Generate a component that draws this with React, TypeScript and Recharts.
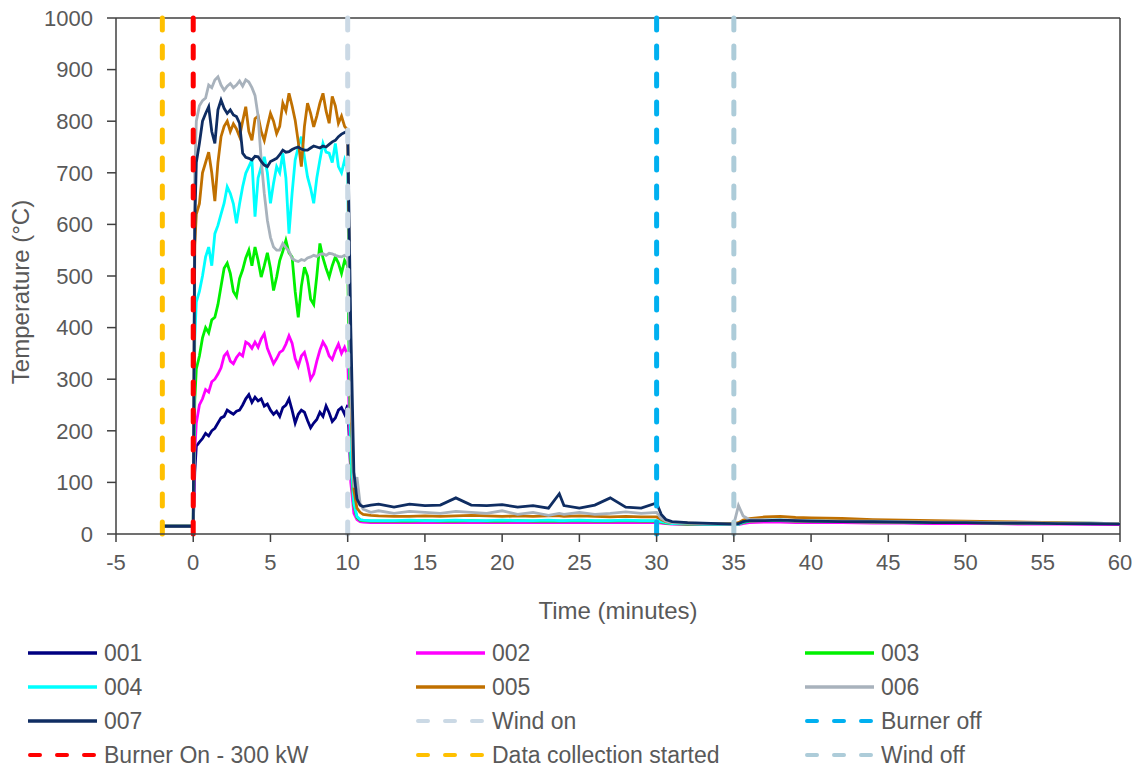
import React from 'react';
import { LineChart, Line, XAxis, YAxis, ReferenceLine, Label } from 'recharts';

// time in minutes
const times = [
  -2, -1, 0,
  0.1, 0.2, 0.4, 0.6, 0.8, 1.0, 1.2, 1.4, 1.6, 1.8, 2.0,
  2.2, 2.4, 2.6, 2.8, 3.0, 3.2, 3.4, 3.6, 3.8, 4.0,
  4.2, 4.4, 4.6, 4.8, 5.0, 5.2, 5.4, 5.6, 5.8, 6.0,
  6.2, 6.4, 6.6, 6.8, 7.0, 7.2, 7.4, 7.6, 7.8, 8.0,
  8.2, 8.4, 8.6, 8.8, 9.0, 9.2, 9.4, 9.6, 9.8, 10.0,
  10.2, 10.4, 10.6, 10.8, 11, 11.5, 12,
  13, 14, 15, 16, 17, 18, 19, 20, 21, 22, 23,
  23.7,
  24, 25, 26, 27, 28, 29, 30,
  30.3, 30.6,
  31, 32, 33, 34, 35,
  35.3, 35.6,
  36, 37, 38, 39, 40,
  42, 44, 46, 48, 50, 52, 54, 56, 58, 60,
];

const s001 = [
  15, 15, 15,
  120, 170, 178, 185, 195, 190, 200, 205, 215, 225, 228,
  240, 236, 232, 238, 240, 250, 262, 270, 255, 265,
  258, 262, 248, 252, 240, 232, 238, 228, 245, 250,
  262, 240, 215, 232, 240, 236, 220, 206, 215, 222,
  236, 228, 248, 235, 218, 225, 240, 245, 232, 250,
  120, 50, 32, 27, 25, 24, 24,
  24, 24, 23, 24, 23, 24, 23, 24, 23, 24, 23,
  24,
  23, 24, 23, 24, 23, 24, 23,
  22, 21,
  20, 19, 19, 19, 19,
  19, 22,
  24, 25, 25, 24, 24,
  23, 22, 22, 21, 21, 20, 20, 20, 19, 19,
];

const s002 = [
  15, 15, 15,
  160, 215, 250, 262, 280, 275, 295, 300, 310, 322, 345,
  352, 335, 330, 342, 350, 345, 372, 368, 360, 372,
  362, 378, 388, 360, 345, 330, 340, 352, 356, 368,
  384, 370, 340, 325, 345, 352, 330, 300, 310, 335,
  356, 372, 362, 345, 338, 355, 368, 350, 362, 345,
  100, 40, 28, 24, 23, 22, 22,
  22, 22, 22, 22, 22, 22, 22, 22, 22, 22, 22,
  22,
  22, 22, 22, 22, 22, 22, 22,
  21, 20,
  19, 19, 18, 18, 18,
  18, 20,
  22, 23, 23, 22, 22,
  22, 21, 21, 20, 20, 20, 19, 19, 19, 18,
];

const s003 = [
  15, 15, 15,
  260, 320, 345, 380, 400, 390, 415, 420, 445, 480, 515,
  525, 505, 470, 460, 495, 512, 535, 550, 520, 556,
  530, 498, 520, 545, 515, 472, 498, 530, 548, 569,
  545, 537, 470, 420, 480, 517, 500, 455, 445, 500,
  563, 535, 515, 498, 520, 537, 525, 505, 530, 520,
  140, 55, 32, 27, 26, 25, 25,
  25, 25, 26, 25, 25, 26, 25, 25, 26, 25, 25,
  25,
  25, 26, 25, 25, 26, 25, 25,
  23, 21,
  20, 19, 19, 19, 19,
  19, 22,
  25, 26, 26, 25, 25,
  24, 23, 23, 22, 22, 21, 21, 21, 20, 20,
];

const s004 = [
  15, 15, 15,
  380, 450, 470, 500, 537, 556, 520, 582, 598, 620, 641,
  673, 660, 640, 602, 640, 673, 699, 712, 725, 615,
  690, 712, 731, 700, 641, 680, 712, 700, 738, 690,
  582, 660, 725, 750, 770, 730, 692, 670, 641, 690,
  725, 757, 740, 738, 720, 757, 712, 700, 725, 705,
  160, 60, 34, 28, 27, 26, 26,
  26, 27, 26, 26, 27, 26, 26, 27, 26, 26, 27,
  26,
  26, 27, 26, 26, 27, 26, 26,
  24, 22,
  20, 20, 19, 19, 19,
  19, 23,
  26, 27, 27, 26, 26,
  25, 24, 24, 23, 23, 22, 22, 21, 21, 20,
];

const s005 = [
  15, 15, 15,
  560, 620, 640, 700, 720, 740, 700, 645, 720, 770, 790,
  800, 780, 795, 785, 770, 800, 828, 780, 763, 805,
  810, 780, 763, 790, 815, 800, 776, 790, 835, 820,
  854, 830, 802, 760, 712, 790, 835, 815, 789, 810,
  835, 854, 820, 796, 848, 830, 796, 810, 790, 783,
  250, 85, 50, 42, 38, 36, 35,
  34, 34, 35, 34, 35, 36, 35, 34, 35, 34, 35,
  35,
  34, 35, 34, 33, 34, 33, 33,
  28, 24,
  22, 21, 20, 20, 20,
  22, 27,
  30, 33, 34, 32, 31,
  30, 28, 27, 26, 25, 24, 23, 22, 21, 20,
];

const s006 = [
  15, 15, 15,
  700, 800, 830, 840, 845, 870, 865, 880, 886, 870, 860,
  868, 873, 865, 870, 878, 868, 880, 876, 865, 850,
  810, 725, 660, 608, 575, 556, 550, 550, 563, 555,
  548, 534, 530, 528, 532, 530, 535, 537, 540, 538,
  542, 543, 540, 544, 543, 540, 538, 537, 540, 538,
  300, 90, 110, 60, 48, 42, 45,
  40, 44, 42, 40, 44, 42, 40, 45, 38, 42, 36,
  40,
  38, 42, 38, 40, 43, 40, 42,
  30, 25,
  22, 21, 20, 20, 19,
  55, 35,
  28, 28, 27, 27, 26,
  25, 25, 24, 23, 23, 22, 22, 21, 21, 20,
];

const s007 = [
  15, 15, 15,
  600, 720, 757, 800, 815, 828, 780, 757, 822, 841, 825,
  815, 822, 812, 809, 796, 738, 730, 728, 725, 732,
  731, 722, 715, 712, 722, 725, 728, 735, 744, 740,
  741, 745, 748, 750, 746, 744, 744, 748, 752, 750,
  748, 752, 750, 755, 760, 763, 770, 775, 778, 782,
  400, 120, 68, 56, 53, 56, 58,
  52, 58, 55, 56, 70, 56, 55, 57, 52, 55, 50,
  78,
  55, 50, 56, 70, 52, 50, 60,
  38, 28,
  24, 22, 21, 20, 19,
  20, 24,
  26, 26, 27, 26, 25,
  24, 24, 23, 22, 22, 21, 21, 20, 20, 19,
];

const xTicks = [-5, 0, 5, 10, 15, 20, 25, 30, 35, 40, 45, 50, 55, 60];
const yTicks = [0, 100, 200, 300, 400, 500, 600, 700, 800, 900, 1000];

const seriesNames = ['001', '002', '003', '004', '005', '006', '007'];
const seriesColors = ['#000080', '#FF00FF', '#00F000', '#00FFFF', '#C07000', '#A8B2BC', '#0F2D62'];
const seriesValues = [s001, s002, s003, s004, s005, s006, s007];

const eventNames = ['Wind on', 'Burner off', 'Burner On - 300 kW', 'Data collection started', 'Wind off'];
const eventTimes = [10, 30, 0, -2, 35];
const eventColors = ['#CBD9E5', '#00B0F0', '#FF0000', '#FFC000', '#ADCCD9'];

const data = times.map((t, i) => {
  const row: any = { t };
  seriesNames.forEach((n, k) => {
    row['s' + n] = seriesValues[k][i];
  });
  return row;
});

const FONT = '"Liberation Sans", Arial, sans-serif';
const TEXT = '#595959';
const AXIS = '#404040';

const legendItems = [
  ...seriesNames.map((n, k) => ({ name: n, color: seriesColors[k], dash: false })),
  ...eventNames.map((n, k) => ({ name: n, color: eventColors[k], dash: true })),
];

const legendColX = [28, 416, 805];
const legendRowY = [653, 687, 721, 755];

function LegendOverlay() {
  return (
    <svg width={1142} height={771} style={{ position: 'absolute', left: 0, top: 0, pointerEvents: 'none' }}>
      {legendItems.map((it, i) => {
        const x = legendColX[i % 3];
        const y = legendRowY[Math.floor(i / 3)];
        return (
          <g key={it.name}>
            {it.dash ? (
              <line x1={x + 2} x2={x + 67} y1={y} y2={y} stroke={it.color} strokeWidth={4} strokeDasharray="10 17" strokeLinecap="round" />
            ) : (
              <line x1={x} x2={x + 69} y1={y} y2={y} stroke={it.color} strokeWidth={3.5} />
            )}
            <text x={x + 76} y={y} dy="0.36em" fontSize={23} fill={TEXT} fontFamily={FONT}>
              {it.name}
            </text>
          </g>
        );
      })}
    </svg>
  );
}

export default function App() {
  return (
    <div style={{ position: 'absolute', left: 0, top: 0, width: 1142, height: 771, background: '#fff' }}>
      <LineChart width={1142} height={771} data={data} margin={{ top: 18, right: 22, left: 0, bottom: 157 }}>
        <XAxis
          dataKey="t"
          type="number"
          domain={[-5, 60]}
          ticks={xTicks}
          allowDataOverflow
          height={80}
          tickSize={8}
          tickMargin={12}
          stroke={AXIS}
          strokeWidth={1.5}
          tick={{ fill: TEXT, fontSize: 22, fontFamily: FONT }}
          label={
            <Label
              content={(props: any) => {
                const vb = props.viewBox || {};
                return (
                  <text x={vb.x + vb.width / 2} y={vb.y + 85} textAnchor="middle" fontSize={24} fill={TEXT} fontFamily={FONT}>
                    Time (minutes)
                  </text>
                );
              }}
            />
          }
        />
        <YAxis
          type="number"
          domain={[0, 1000]}
          ticks={yTicks}
          width={116}
          tickSize={9}
          tickMargin={14}
          stroke={AXIS}
          strokeWidth={1.5}
          tick={{ fill: TEXT, fontSize: 22, fontFamily: FONT }}
          label={
            <Label
              content={(props: any) => {
                const vb = props.viewBox || {};
                const cy = vb.y + vb.height / 2 + 16;
                return (
                  <text x={29} y={cy} transform={`rotate(-90, 29, ${cy})`} textAnchor="middle" fontSize={24} fill={TEXT} fontFamily={FONT}>
                    Temperature (°C)
                  </text>
                );
              }}
            />
          }
        />
        <ReferenceLine y={1000} stroke={AXIS} strokeWidth={1.5} />
        <ReferenceLine x={60} stroke={AXIS} strokeWidth={1.5} />
        {seriesNames.map((n, k) => (
          <Line
            key={n}
            type="linear"
            dataKey={'s' + n}
            stroke={seriesColors[k]}
            strokeWidth={2.8}
            dot={false}
            isAnimationActive={false}
          />
        ))}
        {eventNames.map((n, k) => (
          <ReferenceLine
            key={n}
            x={eventTimes[k]}
            stroke={eventColors[k]}
            strokeWidth={5}
            strokeDasharray="12 16"
            strokeLinecap="round"
          />
        ))}
      </LineChart>
      <LegendOverlay />
    </div>
  );
}
